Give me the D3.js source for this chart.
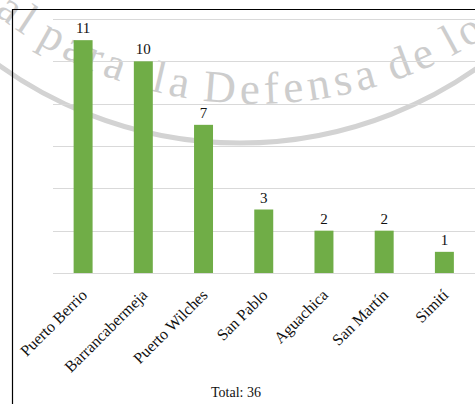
<!DOCTYPE html>
<html>
<head>
<meta charset="utf-8">
<script src="https://cdn.jsdelivr.net/npm/d3@7"></script>
<style>
  html, body { margin: 0; padding: 0; background: #fff; }
  svg { display: block; }
</style>
</head>
<body>
<svg id="chart" width="475" height="404"></svg>
<script>
// ---- data ----
const categories = ["Puerto Berrio", "Barrancabermeja", "Puerto Wilches", "San Pablo", "Aguachica", "San Martín", "Simití"];
const values = [11, 10, 7, 3, 2, 2, 1];
const yTicks = [0, 2, 4, 6, 8, 10, 12];
const totalLabel = "Total: 36";
const watermarkWords = ["al", "para", "la", "Defensa", "de", "lo"];
const watermarkWordX = [-6, 36, 150, 202, 393, 451];

const W = 475, H = 404;
const svg = d3.select("#chart");
const serif = "'Liberation Serif', 'Times New Roman', serif";

// ---- watermark (behind chart) ----
const wm = svg.append("g");
wm.append("circle")
  .attr("cx", 240).attr("cy", -269).attr("r", 412)
  .attr("fill", "none").attr("stroke", "#d3d3d3").attr("stroke-width", 5);
const tcx = 256, tcy = -321, Rt = 425;
wm.append("path").attr("id", "wmPath")
  .attr("d", `M ${tcx - Rt} ${tcy} A ${Rt} ${Rt} 0 0 0 ${tcx + Rt} ${tcy}`)
  .attr("fill", "none");
const offsetForX = px => Rt * Math.acos((tcx - px) / Rt);
wm.selectAll("text.wm").data(watermarkWords).join("text")
  .attr("class", "wm")
  .attr("font-family", serif).attr("font-size", 45)
  .attr("letter-spacing", 5)
  .attr("fill", "#cdcdcd")
  .append("textPath").attr("href", "#wmPath")
  .attr("startOffset", (d, i) => offsetForX(watermarkWordX[i]))
  .text(d => d);

// ---- border ----
svg.append("path")
  .attr("d", `M 12.5 ${H} V 9.5 H ${W}`)
  .attr("fill", "none").attr("stroke", "#000").attr("stroke-width", 1.2);

// ---- scales ----
const x = d3.scaleBand().domain(categories).range([53, 474.5])
  .paddingInner(0.685).paddingOuter(0.3425);
const y = d3.scaleLinear().domain([0, 12]).range([273, 19]);

// gridlines
svg.append("g").selectAll("line").data(yTicks).join("line")
  .attr("x1", 53).attr("x2", W)
  .attr("y1", d => Math.round(y(d)) + 0.5).attr("y2", d => Math.round(y(d)) + 0.5)
  .attr("stroke", "#d9d9d9").attr("stroke-width", 1);

// bars
svg.append("g").selectAll("rect").data(values).join("rect")
  .attr("x", (d, i) => x(categories[i]))
  .attr("width", x.bandwidth())
  .attr("y", d => y(d))
  .attr("height", d => y(0) - y(d))
  .attr("fill", "#70ad47");

// value labels
svg.append("g").selectAll("text").data(values).join("text")
  .attr("x", (d, i) => x(categories[i]) + x.bandwidth() / 2)
  .attr("y", d => y(d) - 7)
  .attr("text-anchor", "middle")
  .attr("font-family", serif).attr("font-size", 15)
  .attr("fill", "#111")
  .text(d => d);

// category axis labels
const xAxis = d3.axisBottom(x).tickSize(0).tickPadding(0);
const gx = svg.append("g").attr("transform", `translate(0, ${y(0)})`).call(xAxis);
gx.select(".domain").remove();
gx.selectAll(".tick text")
  .attr("font-family", serif).attr("font-size", 16).attr("fill", "#111")
  .attr("text-anchor", "end")
  .attr("dy", 0).attr("y", 0)
  .attr("transform", "translate(5, 23) rotate(-45)");

// total
svg.append("text")
  .attr("x", 236).attr("y", 397)
  .attr("text-anchor", "middle")
  .attr("font-family", serif).attr("font-size", 14).attr("fill", "#111")
  .text(totalLabel);
</script>
</body>
</html>
